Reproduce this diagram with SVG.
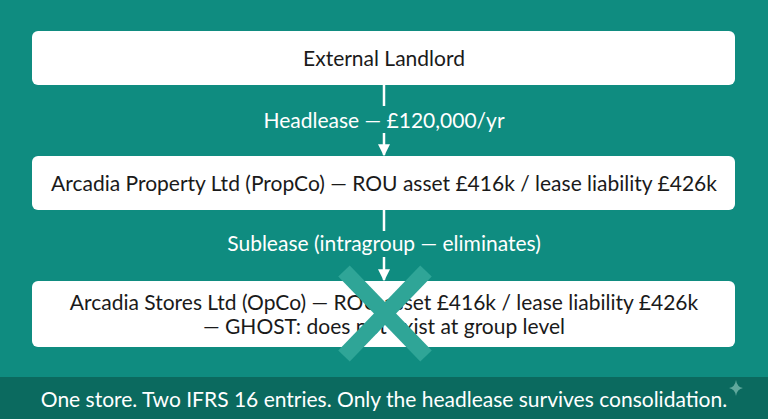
<svg xmlns="http://www.w3.org/2000/svg" width="768" height="419" viewBox="0 0 768 419">
<defs>
<style>
.box{fill:#ffffff;}
.t{font-family:"Lato","Liberation Sans",sans-serif;font-size:21px;fill:#1a1a1a;text-anchor:middle;}
.lbl{font-family:"Lato","Liberation Sans",sans-serif;font-size:21px;fill:#ffffff;text-anchor:middle;}
.ln{stroke:#ffffff;stroke-width:2.5;fill:none;}
</style>
<marker id="ah" viewBox="0 0 10 10" refX="9" refY="5" markerWidth="12" markerHeight="12" orient="auto" markerUnits="userSpaceOnUse">
<path d="M0,0 L10,5 L0,10 Z" fill="#ffffff"/>
</marker>
</defs>
<rect x="0" y="0" width="768" height="419" fill="#0F8C80"/>
<g id="connectors">
<line class="ln" x1="384" y1="85" x2="384" y2="106"/>
<text class="lbl" x="384" y="128">Headlease — £120,000/yr</text>
<line class="ln" x1="384" y1="133" x2="384" y2="155" marker-end="url(#ah)"/>
<line class="ln" x1="384" y1="210" x2="384" y2="231"/>
<text class="lbl" x="384" y="251">Sublease (intragroup — eliminates)</text>
<line class="ln" x1="384" y1="257" x2="384" y2="280" marker-end="url(#ah)"/>
</g>
<g id="landlord">
<rect class="box" x="32" y="31" width="703" height="54" rx="6"/>
<text class="t" x="384" y="66">External Landlord</text>
</g>
<g id="propco">
<rect class="box" x="32" y="156" width="703" height="54" rx="6"/>
<text class="t" x="384" y="191">Arcadia Property Ltd (PropCo) — ROU asset £416k / lease liability £426k</text>
</g>
<g id="opco">
<rect class="box" x="32" y="281" width="703" height="66" rx="6"/>
<text class="t" x="384" y="310">Arcadia Stores Ltd (OpCo) — ROU asset £416k / lease liability £426k</text>
<text class="t" x="384" y="334">— GHOST: does not exist at group level</text>
</g>
<g id="cross">
<line x1="344" y1="271" x2="426" y2="356" stroke="#2FA597" stroke-width="16"/>
<line x1="426" y1="271" x2="344" y2="356" stroke="#2FA597" stroke-width="16"/>
</g>
<g id="footer">
<rect x="0" y="377" width="768" height="42" fill="#0B6A5F"/>
<text class="lbl" x="384" y="407">One store. Two IFRS 16 entries. Only the headlease survives consolidation.</text>
<path d="M736,380 Q737,387 743,388 Q737,389 736,396 Q735,389 729,388 Q735,387 736,380 Z" fill="#5FA89C"/>
</g>
</svg>
